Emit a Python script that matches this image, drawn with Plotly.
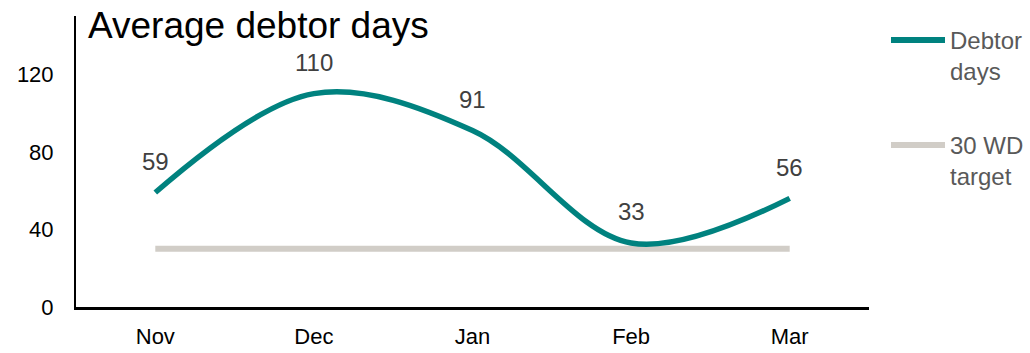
import plotly.graph_objects as go

# Monthly data
months = ["Nov", "Dec", "Jan", "Feb", "Mar"]
debtor_days = [59, 110, 91, 33, 56]
target_days = [30, 30, 30, 30, 30]
series_names = ["Debtor<br>days", "30 WD<br>target"]
y_ticks = [0, 40, 80, 120]
chart_title = "Average debtor days"

TEAL = "#00827F"
STONE = "#D1CDC7"
FONT = "Liberation Sans, Arial, sans-serif"

W, H = 1030, 353
M_L, M_R, M_T, M_B = 76, 161, 16, 46

fig = go.Figure()

fig.add_trace(go.Scatter(
    x=months, y=target_days, mode="lines",
    line=dict(color=STONE, width=6, shape="linear"),
    hoverinfo="skip", showlegend=False,
))
fig.add_trace(go.Scatter(
    x=months, y=debtor_days, mode="lines",
    line=dict(color=TEAL, width=5.5, shape="spline", smoothing=1.0),
    hoverinfo="skip", showlegend=False,
))

# Value labels above each point
for m, v in zip(months, debtor_days):
    fig.add_annotation(
        x=m, y=v, xref="x", yref="y", text=str(v), showarrow=False,
        yshift=31, font=dict(family=FONT, size=24, color="#404040"),
    )

plot_w = W - M_L - M_R
plot_h = H - M_T - M_B


def px_x(px):
    return (px - M_L) / plot_w


def px_y(py):
    return 1 - (py - M_T) / plot_h


# Chart title inside the plot area
fig.add_annotation(
    x=px_x(86), y=1.0, xref="paper", yref="paper",
    xanchor="left", yanchor="middle", yshift=-9,
    text=chart_title, showarrow=False,
    font=dict(family=FONT, size=37, color="#000000"),
)

# Hand-drawn legend on the right
legend_rows = [(40, TEAL, series_names[0]), (145, STONE, series_names[1])]
for py, col, name in legend_rows:
    fig.add_shape(
        type="line", xref="paper", yref="paper",
        x0=px_x(891), x1=px_x(945), y0=px_y(py), y1=px_y(py),
        line=dict(color=col, width=6),
    )
    fig.add_annotation(
        x=px_x(948), y=px_y(py), xref="paper", yref="paper",
        xanchor="left", yanchor="top", yshift=15, align="left",
        text=name, showarrow=False,
        font=dict(family=FONT, size=24, color="#595959"),
    )

fig.update_layout(
    width=W, height=H,
    margin=dict(l=M_L, r=M_R, t=M_T, b=M_B, pad=0, autoexpand=False),
    paper_bgcolor="white", plot_bgcolor="white",
    font=dict(family=FONT, size=22, color="#000000"),
    showlegend=False,
    xaxis=dict(
        type="category", range=[-0.5, 4.5], automargin=False,
        showline=True, linecolor="#000000", linewidth=2.5,
        showgrid=False, zeroline=False, ticks="",
        ticklabelstandoff=8,
        tickfont=dict(family=FONT, size=22, color="#000000"),
    ),
    yaxis=dict(
        range=[0, 150], tickvals=y_ticks, automargin=False,
        showline=True, linecolor="#000000", linewidth=2,
        showgrid=False, zeroline=False, ticks="",
        ticklabelstandoff=16,
        tickfont=dict(family=FONT, size=22, color="#000000"),
    ),
)

fig.write_html("out.html")
